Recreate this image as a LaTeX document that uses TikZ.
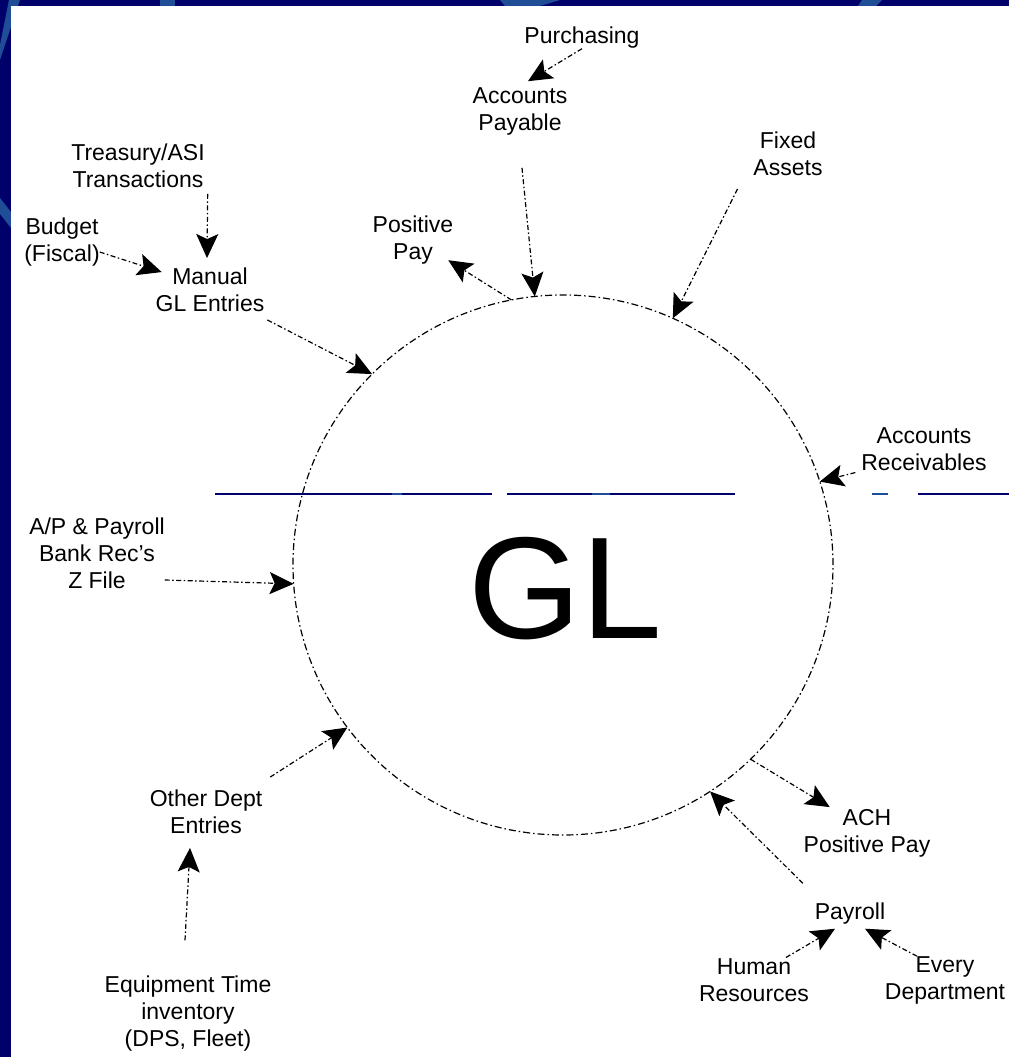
\documentclass[tikz,border=0pt]{standalone}
\usepackage{fontspec}
\setmainfont{Liberation Sans}
\usetikzlibrary{arrows.meta}
\definecolor{navy}{HTML}{00006A}
\definecolor{lightnavy}{HTML}{1F4E96}
\definecolor{linenavy}{HTML}{000070}
\begin{document}
\begin{tikzpicture}[x=1pt,y=-1pt,
  lbl/.style={align=center, font=\fontsize{23}{27}\selectfont, inner sep=0pt, outer sep=0pt},
  flow/.style={line width=1.2pt, dash pattern=on 5pt off 2.5pt on 1.5pt off 2.5pt,
    -{Stealth[length=24pt,width=22pt,inset=5pt]}},
  ring/.style={circle, draw, line width=1.2pt, dash pattern=on 7pt off 3pt on 1.5pt off 3pt,
    minimum size=540pt, inner sep=0pt, outer sep=0pt},
  tline/.style={linenavy, line width=1.6pt},
  tlight/.style={lightnavy, line width=1.6pt}
]
% background frame
\fill[navy] (0,0) rectangle (1009,1057);
\useasboundingbox (0,0) rectangle (1009,1057);
\fill[lightnavy] (0,198) -- (11,212) -- (11,228) -- (0,214) -- cycle;
\fill[lightnavy] (0,45) -- (9,0) -- (20,0) -- (0,60) -- cycle;
\fill[lightnavy] (160,0) rectangle (175,6);
\fill[lightnavy] (500,0) -- (560,0) -- (540,6) -- (505,6) -- cycle;
\fill[lightnavy] (862,0) -- (882,0) -- (876,6) -- (858,6) -- cycle;
\fill[white] (11,6) rectangle (1009,1057);

% central circle
\node[ring] (gl) at (563,565) {};
\node[inner sep=0pt, font=\fontsize{145}{145}\selectfont] (gltext) at (565,589) {GL};

% template line remnants
\draw[tline] (215,494) -- (492,494);
\draw[tline] (507,494) -- (735,494);
\draw[tlight] (392,494) -- (402,494);
\draw[tlight] (592,494) -- (610,494);
\draw[tlight] (872,494) -- (888,494);
\draw[tline] (918,494) -- (1009,494);

% labels
\node[lbl] (purch) at (582,38) {Purchasing};
\node[lbl] (ap) at (520,111) {Accounts\\Payable};
\node[lbl] (fixed) at (788,154) {Fixed\\Assets};
\node[lbl] (pos) at (413,240) {Positive\\Pay};
\node[lbl] (treas) at (138,166) {Treasury/ASI\\Transactions};
\node[lbl] (budget) at (62,242) {Budget\\(Fiscal)};
\node[lbl] (manual) at (210,290) {Manual\\GL Entries};
\node[lbl] (ar) at (924,449) {Accounts\\Receivables};
\node[lbl] (appay) at (97,553) {A/P \& Payroll\\Bank Rec's\\Z File};
\node[lbl] (other) at (206,812) {Other Dept\\Entries};
\node[lbl] (equip) at (188,1014) {Equipment Time\\inventory\\(DPS, Fleet)};
\node[lbl] (ach) at (867,833) {ACH\\Positive Pay};
\node[lbl] (payroll) at (850,914) {Payroll};
\node[lbl] (hr) at (754,980) {Human\\Resources};
\node[lbl] (every) at (945,980) {Every\\Department};

% connectors
\draw[flow] (purch.south) -- ([shift={(8,-6)}]ap.north);
\draw[flow] ([shift={(3,6)}]treas.south east) -- ([shift={(-3,-10)}]manual.north);
\draw[flow] ([shift={(0,10)}]budget.east) -- ([shift={(6,4)}]manual.north west);
\draw[flow] ([shift={(3,8)}]manual.south east) -- (gl.135);
\draw[flow] ([shift={(2,33)}]ap.south) -- (gl.96);
\draw[flow] (gl.101.5) -- ([shift={(-5,-4)}]pos.south east);
\draw[flow] ([shift={(-16,13)}]fixed.south west) -- (gl.66.7);
\draw[flow] ([shift={(-6,2)}]ar.south west) -- (gl.18);
\draw[flow] ([shift={(0,27)}]appay.east) -- (gl.184);
\draw[flow] ([shift={(8,-13)}]other.north east) -- (gl.217);
\draw[flow] ([shift={(-3,-36)}]equip.north) -- ([shift={(-16,14)}]other.south);
\draw[flow] (gl.314.7) -- ([shift={(26,-2)}]ach.north west);
\draw[flow] ([shift={(-12,-20)}]payroll.north west) -- (gl.303.5);
\draw[flow] ([shift={(-23,-1)}]hr.north east) -- ([shift={(-15,4)}]payroll.south);
\draw[flow] ([shift={(-28,0)}]every.north) -- ([shift={(15,4)}]payroll.south);
\end{tikzpicture}
\end{document}
